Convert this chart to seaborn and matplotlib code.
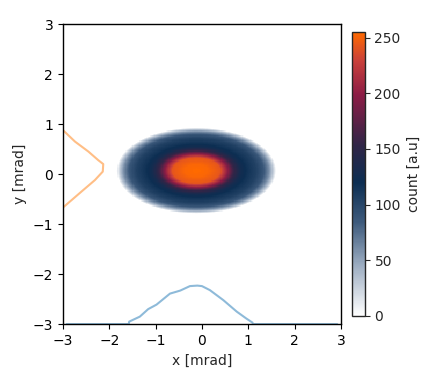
import matplotlib
matplotlib.use("Agg")
import matplotlib.pyplot as plt
import numpy as np
import seaborn as sns
from matplotlib.colors import LinearSegmentedColormap

# beam spot: centre, semi-axes [mrad], radial count profile
BEAM_CENTER = (-0.12, 0.07)
BEAM_SEMI_AXES = (1.72, 0.86)
RING_RADIUS = [0.0, 0.15, 0.30, 0.38, 0.46, 0.55, 0.65, 0.75, 0.84, 0.91, 0.96, 1.0]
RING_COUNT = [255, 252, 242, 205, 160, 128, 115, 105, 88, 60, 30, 0]

# projected profile along x (bottom, blue)
PROF_X = [-2.92, -1.58, -1.57, -1.34, -1.16, -0.98, -0.69, -0.47, -0.26, -0.10,
          0.0, 0.17, 0.46, 0.75, 0.96, 1.09, 1.10, 2.92]
PROF_X_VAL = [-3.0, -3.0, -2.95, -2.85, -2.70, -2.61, -2.39, -2.33, -2.24, -2.23,
              -2.24, -2.32, -2.52, -2.75, -2.89, -2.97, -3.0, -3.0]

# projected profile along y (left, orange)
PROF_Y = [1.05, 0.88, 0.65, 0.45, 0.28, 0.20, 0.05, -0.12, -0.35, -0.55, -0.67, -0.85]
PROF_Y_VAL = [-3.12, -3.0, -2.74, -2.45, -2.24, -2.13, -2.14, -2.31, -2.60, -2.85, -3.0, -3.12]

BEAM_CMAP = LinearSegmentedColormap.from_list(
    "beam",
    [
        (0.00, "#ffffff"),
        (0.18, "#9aabc0"),
        (0.33, "#3d5a7c"),
        (0.47, "#0c2e52"),
        (0.60, "#2f2547"),
        (0.78, "#8c1c45"),
        (0.90, "#c9403a"),
        (1.00, "#ff6a00"),
    ],
)


def beam_image():
    edges = np.linspace(-3, 3, 241)
    mids = 0.5 * (edges[1:] + edges[:-1])
    xx, yy = np.meshgrid(mids, mids)
    rr = np.hypot((xx - BEAM_CENTER[0]) / BEAM_SEMI_AXES[0],
                  (yy - BEAM_CENTER[1]) / BEAM_SEMI_AXES[1])
    img = np.interp(rr, RING_RADIUS, RING_COUNT, right=0)
    return edges, np.ma.masked_less_equal(img, 0)


def main() -> None:
    sns.set_style("ticks")
    fig = plt.figure(figsize=(4.4, 3.76), dpi=100)
    ax = fig.add_axes([0.143, 0.138, 0.632, 0.798])
    cax = fig.add_axes([0.799, 0.16, 0.030, 0.755])

    edges, img = beam_image()
    mesh = ax.pcolormesh(edges, edges, img, cmap=BEAM_CMAP, vmin=0, vmax=255,
                         shading="flat", rasterized=True)

    sns.lineplot(x=PROF_X, y=PROF_X_VAL, sort=False, estimator=None, ax=ax,
                 color="tab:blue", alpha=0.5, linewidth=1.5)
    sns.lineplot(x=PROF_Y_VAL, y=PROF_Y, sort=False, estimator=None, ax=ax,
                 color="tab:orange", alpha=0.5, linewidth=1.5)

    ax.set_xlim(-3, 3)
    ax.set_ylim(-3, 3)
    ax.set_xticks(range(-3, 4))
    ax.set_yticks(range(-3, 4))
    ax.set_xlabel("x [mrad]")
    ax.set_ylabel("y [mrad]")
    for side in ax.spines.values():
        side.set_visible(True)
        side.set_color("black")
        side.set_linewidth(1.0)
    ax.tick_params(direction="out", length=3.5, colors="black")

    cbar = fig.colorbar(mesh, cax=cax)
    cbar.set_label("count [a.u]")
    cbar.set_ticks([0, 50, 100, 150, 200, 250])
    cbar.outline.set_linewidth(1.0)

    fig.savefig("out.png", dpi=100)
    plt.close(fig)


if __name__ == "__main__":
    main()
